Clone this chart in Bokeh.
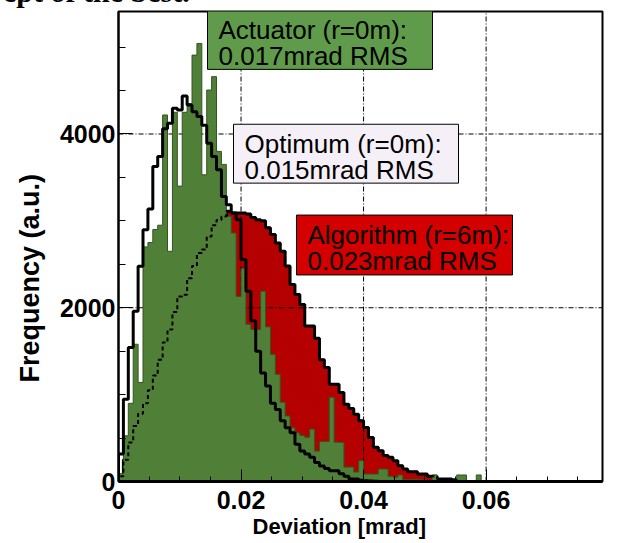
import numpy as np
from bokeh.plotting import figure
from bokeh.layouts import column
from bokeh.models import Range1d, FixedTicker, Label, BoxAnnotation, Title, Div
from bokeh.embed import file_html
from bokeh.resources import INLINE

# ---------------- data ----------------
bin_width = 0.0008  # mrad

actuator = [90, 526, 900, 1580, 1140, 2700, 2750, 2900, 2950, 4219,
            2650, 4250, 3400, 4250, 4350, 4908, 5042, 3530, 4506, 4660,
            3800, 3650, 3050, 2860, 2130, 2450, 1810, 1750, 1750, 2190,
            1780, 1464, 1234, 913, 755, 620, 560, 530, 510, 603,
            350, 460, 460, 970, 453, 450, 166, 166, 109, 239,
            86, 86, 86, 143, 143, 60, 50, 75, 20, 20,
            25, 20, 15, 10, 75, 10, 10, 5, 5, 75,
            75, 0, 0, 75, 0]

optimum = [316, 947, 1541, 1961, 2478, 2899, 3137, 3626, 3741, 4060,
           4124, 4296, 4277, 4437, 4334, 4257, 4200, 4100, 3894, 3741,
           3588, 3281, 3186, 3091, 3014, 2554, 2190, 1850, 1500, 1250,
           1100, 900, 830, 700, 620, 560, 430, 350, 316, 280,
           220, 178, 150, 124, 124, 90, 60, 29, 29, 15,
           10, 5, 3, 0]

algorithm = [60, 250, 450, 640, 780, 900, 1050, 1220, 1400, 1600,
             1750, 1950, 2130, 2150, 2340, 2480, 2630, 2670, 2820, 2950,
             3010, 3050, 3110, 3090, 3090, 3090, 3080, 3040, 3014, 3000,
             2922, 2842, 2746, 2650, 2480, 2268, 2153, 2038, 1789, 1789,
             1650, 1400, 1311, 1120, 1120, 1024, 890, 840, 775, 698,
             622, 507, 393, 354, 300, 278, 239, 181, 143, 113,
             113, 86, 86, 60, 60, 29, 29, 29, 20, 0]

x_ticks = [0, 0.02, 0.04, 0.06]
x_tick_labels = ["0", "0.02", "0.04", "0.06"]
y_ticks = [0, 2000, 4000]
y_tick_labels = ["0", "2000", "4000"]

legend_texts = [
    ("Actuator (r=0m):", "0.017mrad RMS"),
    ("Optimum (r=0m):", "0.015mrad RMS"),
    ("Algorithm (r=6m):", "0.023mrad RMS"),
]

# ---------------- layout helpers ----------------
W, H = 626, 543
FL, FR, FT, FB = 118, 602, 11, 482   # frame edges in page pixels
XMAX, YMAX = 0.079, 5410


def px(x):   # page px -> data x
    return (x - FL) * XMAX / (FR - FL)


def py(y):   # page px -> data y
    return (FB - y) * YMAX / (FB - FT)


def step_xy(values):
    edges = np.arange(len(values) + 1) * bin_width
    xs, ys = [edges[0]], [0]
    for i, v in enumerate(values):
        xs += [edges[i], edges[i + 1]]
        ys += [v, v]
    xs.append(edges[-1])
    ys.append(0)
    return xs, ys


FONT = "Liberation Sans"

p = figure(width=W, height=H, output_backend="svg", toolbar_location=None,
           x_range=Range1d(0, XMAX), y_range=Range1d(0, YMAX),
           min_border_left=FL, min_border_right=W - FR,
           min_border_top=FT, min_border_bottom=H - FB,
           background_fill_color="white", border_fill_color="white")

p.outline_line_color = "black"
p.outline_line_width = 2
p.xgrid.visible = False
p.ygrid.visible = False

# axes
p.xaxis.ticker = FixedTicker(ticks=x_ticks,
                             minor_ticks=list(np.arange(0, 0.0801, 0.005)))
p.yaxis.ticker = FixedTicker(ticks=y_ticks,
                             minor_ticks=list(np.arange(0, 5500, 500)))
p.xaxis.major_label_overrides = dict(zip(x_ticks, x_tick_labels))
p.yaxis.major_label_overrides = dict(zip(y_ticks, y_tick_labels))
for ax in (p.xaxis, p.yaxis):
    ax.major_label_text_font = FONT
    ax.major_label_text_font_style = "bold"
    ax.major_label_text_font_size = "25px"
    ax.major_label_text_color = "black"
    ax.axis_line_color = "black"
    ax.major_tick_line_color = "black"
    ax.minor_tick_line_color = "black"
    ax.major_tick_out = 0
    ax.minor_tick_out = 0
p.xaxis.axis_line_width = 3
p.yaxis.axis_line_width = 2
p.xaxis.major_tick_in = 12
p.xaxis.minor_tick_in = 5
p.yaxis.major_tick_in = 14
p.yaxis.minor_tick_in = 7
p.xaxis.major_label_standoff = 9
p.yaxis.major_label_standoff = 3

# axis titles as side-panel titles (positioned along the axis like the original)
p.add_layout(Title(text="Deviation [mrad]", align="left", offset=134,
                   vertical_align="top", standoff=5,
                   text_font=FONT, text_font_style="bold", text_font_size="22px",
                   text_color="black"), "below")
p.add_layout(Title(text="Frequency (a.u.)", align="left", offset=99,
                   vertical_align="bottom", standoff=24,
                   text_font=FONT, text_font_style="bold", text_font_size="27px",
                   text_color="black"), "left")

# histograms (red first, then the grid, then the others on top)
ax_, ay_ = step_xy(algorithm)
gx_, gy_ = step_xy(actuator)
ox_, oy_ = step_xy(optimum)

p.patch(ax_, ay_, fill_color="#b40000", line_color=None)
p.line(ax_, ay_, line_color="black", line_width=3)

# dash-dot grid lines
gxs = x_ticks[1:]
p.segment(x0=gxs, x1=gxs, y0=[0] * len(gxs), y1=[YMAX] * len(gxs),
          line_color="black", line_width=1, line_dash="5 2 1 2")
gys = y_ticks[1:]
p.segment(x0=[0] * len(gys), x1=[XMAX] * len(gys), y0=gys, y1=gys,
          line_color="black", line_width=1, line_dash="5 2 1 2")

p.patch(gx_, gy_, fill_color="#508038", line_color="#33551f", line_width=1)
p.line(ox_, oy_, line_color="black", line_width=3)
p.line(ax_, ay_, line_color="black", line_width=2, line_dash="4 3")

# legend boxes
boxes = [
    (207, 432, 10, 69, "#5f9b4a"),
    (233, 458, 124, 183, "#f5f0f7"),
    (296, 512, 215, 275, "#d40000"),
]
for (l, r, t, b, c), (t1, t2) in zip(boxes, legend_texts):
    p.add_layout(BoxAnnotation(left=px(l), right=px(r), top=py(t), bottom=py(b),
                               fill_color=c, fill_alpha=1.0,
                               line_color="black", line_width=1, line_alpha=1.0))
    p.add_layout(Label(x=px(l + 11), y=py(t + 19.5), text=t1, text_font=FONT,
                       text_font_size="26px", text_color="black",
                       text_baseline="middle"))
    p.add_layout(Label(x=px(l + 11), y=py(t + 46), text=t2, text_font=FONT,
                       text_font_size="26px", text_color="black",
                       text_baseline="middle"))

# page title, cut off by the top of the page as in the original
title_div = Div(text="ept of the best.", width=300, height=30,
                styles={"position": "absolute", "top": "-28px", "left": "-2px",
                        "font-family": "'Liberation Serif', serif",
                        "font-weight": "bold", "font-size": "30px",
                        "line-height": "30px", "white-space": "nowrap",
                        "color": "black", "z-index": "10"})

layout = column(title_div, p)

with open("out.html", "w") as f:
    f.write(file_html(layout, INLINE))
